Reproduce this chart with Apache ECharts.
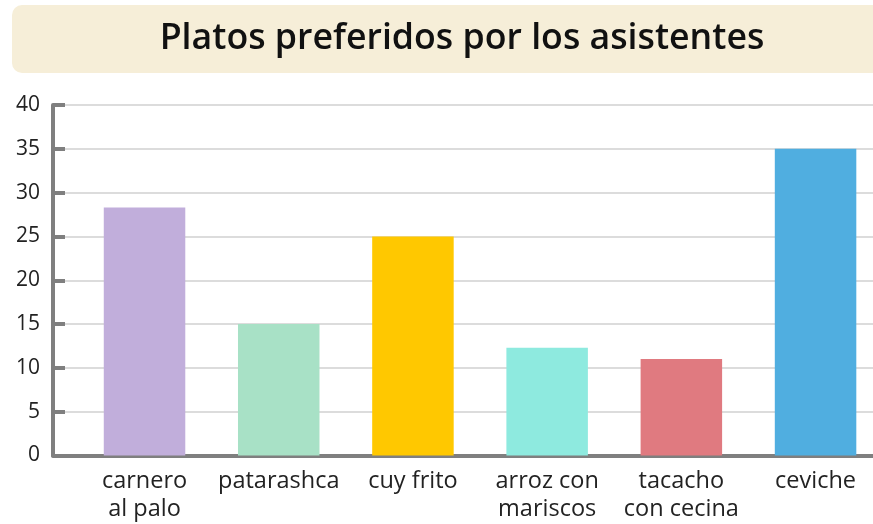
<!DOCTYPE html>
<html>
<head>
<meta charset="utf-8">
<script src="https://cdn.jsdelivr.net/npm/echarts@6/dist/echarts.min.js"></script>
<style>html,body{margin:0;padding:0;background:#fff}#c{width:873px;height:524px}</style>
</head>
<body>
<div id="c"></div>
<script>
const titleText = "Platos preferidos por los asistentes";
const categories = ["carnero\nal palo", "patarashca", "cuy frito", "arroz con\nmariscos", "tacacho\ncon cecina", "ceviche"];
const values = [28.3, 15, 25, 12.3, 11, 35];
const colors = ["#C1AEDB", "#A8E1C6", "#FFC800", "#8EEADF", "#E07A80", "#50AEE0"];
const yTicks = [0, 5, 10, 15, 20, 25, 30, 35, 40];

const FONT = "'Open Sans'";
const chart = echarts.init(document.getElementById('c'), null, {renderer: 'canvas'});
const idx = categories.map((_, i) => i);
chart.setOption({
  animation: false,
  backgroundColor: '#fff',
  graphic: [
    {type: 'rect', shape: {x: 12, y: 5, width: 900, height: 68, r: 10}, style: {fill: '#F6EED8'}, z: 0},
    {type: 'text', x: 462, y: 39, style: {text: titleText, font: '600 35.7px ' + FONT, fill: '#111', textAlign: 'center', textVerticalAlign: 'middle'}, z: 1}
  ],
  grid: {left: 53, right: 0, top: 105, bottom: 68.5},
  xAxis: {
    type: 'value', min: -0.682, max: 5.428,
    axisLine: {show: true, onZero: false, lineStyle: {color: '#7f7f7f', width: 4}},
    axisTick: {show: false},
    splitLine: {show: false},
    axisLabel: {
      customValues: idx, formatter: v => categories[Math.round(v)] || '',
      color: '#222', fontSize: 23.5, fontWeight: 500, fontFamily: FONT, lineHeight: 28, margin: 12
    }
  },
  yAxis: {
    type: 'value', min: 0, max: 40, interval: 5,
    axisLine: {show: true, onZero: false, lineStyle: {color: '#7f7f7f', width: 4}},
    axisTick: {show: true, inside: true, length: 12, lineStyle: {color: '#7f7f7f', width: 4}},
    splitLine: {show: true, lineStyle: {color: '#dcdcdc', width: 2}},
    axisLabel: {color: '#222', fontSize: 21, fontFamily: FONT, margin: 13,
      customValues: yTicks}
  },
  series: [{
    type: 'bar', barWidth: 81.5,
    data: values.map((v, i) => ({value: [i, v], itemStyle: {color: colors[i]}})),
    z: 3
  }]
});
</script>
</body>
</html>
